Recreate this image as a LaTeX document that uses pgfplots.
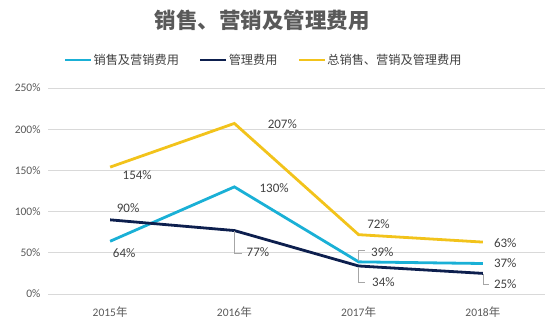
\documentclass[border=0pt]{standalone}
\usepackage{pgfplots}
\pgfplotsset{compat=1.18}
\usepackage{fontspec}
\setmainfont{Carlito}
\newfontfamily\cjk{Noto Sans CJK SC}
\definecolor{cyanL}{HTML}{1AB0D6}
\definecolor{navyL}{HTML}{0D1F4E}
\definecolor{goldL}{HTML}{F2C31B}
\definecolor{gridC}{HTML}{D9D9D9}
\definecolor{txt}{HTML}{595959}
\definecolor{lab}{HTML}{404040}
\begin{document}
\begin{tikzpicture}[x=1pt,y=1pt]
\path[use as bounding box] (0,0) rectangle (554,326);
\node[font=\cjk\bfseries\fontsize{21.5}{23}\selectfont, text=txt] at (262,306) {销售、营销及管理费用};
\begin{axis}[
  at={(48pt,32pt)}, anchor=south west,
  scale only axis, width=497pt, height=206pt,
  xmin=-0.5, xmax=3.5, ymin=0, ymax=250,
  xtick={0,1,2,3},
  xticklabels={{2015{\cjk 年}},{2016{\cjk 年}},{2017{\cjk 年}},{2018{\cjk 年}}},
  ytick={0,50,100,150,200,250},
  yticklabel={\pgfmathprintnumber{\tick}\%},
  /pgf/number format/assume math mode=true,
  ticklabel style={font=\fontsize{11.5}{13}\selectfont, text=txt},
  yticklabel style={xshift=-4pt},
  xticklabel style={yshift=-9pt},
  major tick length=0pt,
  ymajorgrids, grid style={gridC, line width=0.8pt},
  axis line style={draw=none},
  clip=false,
  legend columns=3,
  legend style={at={(0.433,1.136)}, anchor=center, draw=none, fill=none,
    font=\cjk\fontsize{12.2}{14}\selectfont, text=lab,
    /tikz/every even column/.append style={column sep=19pt},
    inner sep=0pt, nodes={inner sep=1pt}},
  legend image code/.code={\draw[#1] (0pt,0pt) -- (26pt,0pt);},
]
\addplot[cyanL, line width=2.8pt] coordinates {(0,64) (1,130) (2,39) (3,37)};
\addlegendentry{销售及营销费用}
\addplot[navyL, line width=2.8pt] coordinates {(0,90) (1,77) (2,34) (3,25)};
\addlegendentry{管理费用}
\addplot[goldL, line width=2.8pt] coordinates {(0,154) (1,207) (2,72) (3,63)};
\addlegendentry{总销售、营销及管理费用}

\begin{scope}[every node/.style={font=\fontsize{13}{15}\selectfont, text=lab, inner sep=0pt}]
\node at (axis cs:0.218,144.4) {154\%};
\node at (axis cs:1.386,206.3) {207\%};
\node at (axis cs:2.16,85) {72\%};
\node at (axis cs:3.18,61.9) {63\%};
\node at (axis cs:1.32,128.6) {130\%};
\node at (axis cs:2.19,51) {39\%};
\node at (axis cs:3.18,37.6) {37\%};
\node at (axis cs:0.145,104.4) {90\%};
\node at (axis cs:0.113,49.8) {64\%};
\node at (axis cs:1.19,51) {77\%};
\node at (axis cs:2.2,14.6) {34\%};
\node at (axis cs:3.18,12.1) {25\%};
\end{scope}
\draw[gray!70, line width=0.5pt] (axis cs:1.0,76) -- (axis cs:1.0,50) -- (axis cs:1.06,50);
\draw[gray!70, line width=0.5pt] (axis cs:2.0,40) -- (axis cs:2.0,52.5) -- (axis cs:2.05,52.5);
\draw[gray!70, line width=0.5pt] (axis cs:2.0,33) -- (axis cs:2.0,14) -- (axis cs:2.05,14);
\draw[gray!70, line width=0.5pt] (axis cs:3.0,24) -- (axis cs:3.0,12) -- (axis cs:3.05,12);
\end{axis}
\end{tikzpicture}
\end{document}
